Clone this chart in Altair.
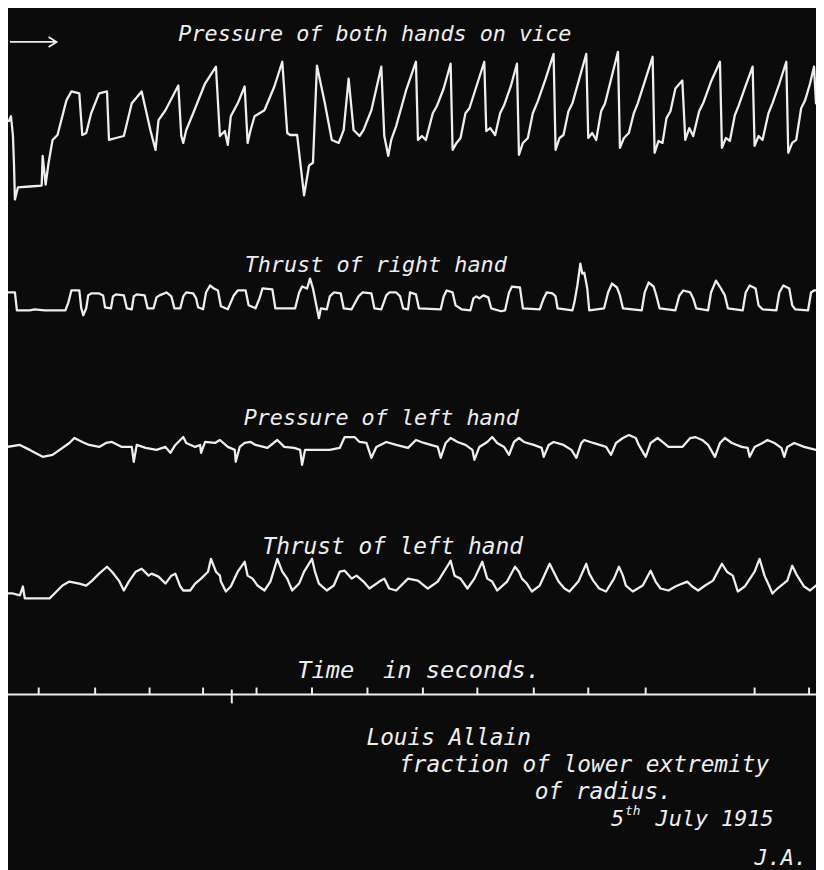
import altair as alt
import pandas as pd

# Kymograph record, positions along the drum (x, mm ~ px) and pen height (y, mm ~ px, downwards)
BOTH_HANDS = [(9,118),(11,113),(13,133),(14,160),(15,197),(18,185),(30,184),(42,183),(43,153),(46,182),
    (49,160),(53,137),(58,132),(67,97),(72,88),(80,90),(83,132),(87,130),(92,110),(100,90),(108,88),
    (110,137),(117,135),(125,133),(133,100),(143,88),(152,128),(157,147),(160,117),(167,107),(180,82),
    (183,133),(185,140),(188,127),(195,110),(207,80),(218,63),(222,133),(227,128),(230,142),(233,113),
    (240,100),(247,83),(250,140),(253,127),(257,113),(267,107),(277,83),(285,58),(290,130),(293,132),
    (300,132),(307,193),(312,163),(316,160),(320,62),(328,100),(335,137),(342,140),(347,127),(352,75),
    (357,127),(363,133),(367,127),(375,107),(385,63),(388,133),(392,153),(395,137),(400,123),(410,87),
    (420,58),(422,137),(426,133),(430,137),(437,110),(441,103),(448,85),(455,60),(457,147),(461,140),
    (465,135),(470,110),(474,105),(482,80),(489,58),(491,128),(495,125),(500,132),(505,110),(509,102),
    (516,82),(522,60),(524,152),(528,140),(533,135),(538,110),(543,98),(551,75),(559,50),(561,147),
    (565,135),(569,132),(574,108),(578,100),(585,75),(592,50),(594,135),(598,130),(602,137),(607,108),
    (611,100),(618,72),(624,48),(626,145),(630,135),(635,130),(640,110),(644,100),(651,78),(659,53),
    (661,150),(665,138),(669,140),(673,115),(677,108),(682,85),(689,77),(692,137),(696,125),(700,133),
    (706,108),(710,100),(718,78),(727,58),(729,145),(733,135),(737,138),(742,112),(746,102),(752,85),
    (760,63),(762,143),(766,133),(770,137),(776,110),(780,100),(787,80),(794,58),(796,150),(800,140),
    (804,137),(809,105),(813,97),(818,80),(822,63),(824,100)]

RIGHT_THRUST = [(8,291),(15,291),(17,309),(30,309),(35,308),(45,309),(60,309),(66,309),
    (69,301),(72,289),(80,289),(82,307),(84,314),(87,307),
    (89,294),(92,292),(100,292),(104,294),(106,306),(112,307),
    (114,295),(117,293),(125,294),(128,307),(133,308),
    (135,295),(138,293),(146,294),(149,307),(155,307),
    (158,296),(161,294),(168,291),(173,295),(176,307),(182,307),
    (185,295),(188,291),(195,292),(198,297),(200,306),(205,308),
    (208,291),(212,284),(216,287),(220,289),(223,305),(230,308),
    (236,294),(240,289),(248,289),(251,304),(258,307),
    (262,297),(265,287),(275,288),(278,307),(287,307),
    (298,307),(302,291),(305,285),(310,287),(313,277),(316,287),(320,307),(322,317),(324,307),(330,308),
    (333,295),(337,291),(344,292),(347,307),(355,308),
    (362,295),(366,291),(375,292),(378,307),(385,308),
    (390,294),(393,291),(400,291),(404,295),(407,307),(412,308),
    (414,291),(420,293),(423,307),(445,308),
    (448,295),(451,289),(457,291),(460,304),(466,308),(475,309),
    (478,297),(481,295),(484,297),(488,294),(493,296),(496,307),(506,310),(510,309),
    (514,291),(517,285),(525,286),(528,307),(545,308),
    (549,297),(552,291),(558,292),(561,295),(563,307),(578,309),
    (580,301),(583,284),(586,262),(588,272),(590,271),(593,287),(595,309),(610,307),
    (614,291),(618,282),(623,286),(626,294),(629,307),(648,309),
    (651,291),(655,281),(660,285),(663,295),(666,307),(682,309),
    (686,294),(690,289),(697,291),(700,297),(703,307),(715,309),
    (718,291),(723,279),(728,287),(732,294),(735,307),(750,309),
    (753,291),(757,284),(763,287),(766,304),(770,308),(784,309),
    (787,291),(791,284),(797,287),(800,304),(803,308),(816,309),
    (819,291),(822,289),(824,289)]

LEFT_PRESSURE = [(7,447),(20,445),(30,450),(43,457),(53,455),(70,443),(75,438),(83,442),(90,445),
    (100,447),(107,443),(113,442),(123,447),(133,447),(135,462),(138,445),(147,448),(158,450),(167,447),
    (172,453),(177,445),(182,440),(185,437),(188,443),(197,447),(202,445),(203,453),(207,442),(217,443),
    (222,440),(230,447),(237,450),(238,462),(242,447),(247,443),(253,442),(258,445),(270,448),(280,440),
    (287,447),(297,448),(303,450),(305,465),(308,450),(320,450),(333,450),(343,448),(348,437),(358,437),
    (363,442),(370,443),(375,458),(380,447),(390,442),(400,445),(412,448),(420,440),(428,443),(442,447),
    (445,458),(450,443),(455,438),(462,442),(470,445),(477,450),(479,460),(484,447),(492,442),(497,437),
    (502,443),(509,447),(514,455),(519,442),(524,438),(529,442),(539,445),(547,448),(549,457),(554,445),
    (559,442),(569,445),(577,450),(582,458),(587,443),(590,440),(599,443),(612,447),(617,455),(622,443),
    (629,438),(635,435),(642,438),(645,445),(652,457),(657,443),(664,438),(669,442),(675,447),(689,447),
    (697,438),(702,437),(709,440),(715,445),(722,457),(727,443),(732,438),(739,443),(749,447),(755,448),
    (757,457),(762,447),(770,443),(775,440),(782,443),(789,448),(792,457),(795,447),(802,443),(812,447),
    (824,450)]

LEFT_THRUST = [(7,595),(13,595),(20,597),(23,588),(25,600),(33,600),(50,600),(55,595),(63,587),(70,583),
    (80,585),(87,587),(93,582),(100,575),(108,568),(113,573),(120,582),(125,592),(130,583),(137,573),
    (143,570),(150,577),(153,575),(160,578),(167,585),(173,577),(177,575),(182,588),(185,592),(192,592),
    (197,585),(203,580),(210,573),(213,560),(218,573),(222,577),(223,583),(228,593),(233,588),(240,573),
    (247,563),(250,577),(255,580),(260,587),(267,592),(273,583),(280,560),(285,573),(290,580),(295,592),
    (302,585),(307,573),(315,560),(318,573),(322,585),(330,592),(337,587),(343,573),(348,572),(355,580),
    (360,577),(367,583),(373,590),(383,583),(388,580),(393,590),(400,592),(412,580),(422,582),(432,590),
    (442,583),(452,567),(455,562),(459,577),(465,580),(472,590),(479,580),(487,563),(492,580),(497,583),
    (502,592),(512,583),(520,568),(524,573),(527,580),(532,585),(537,593),(545,587),(555,565),(559,573),
    (564,583),(570,590),(575,593),(584,583),(592,565),(595,575),(599,582),(605,590),(612,593),(620,580),
    (625,568),(629,577),(632,587),(639,593),(649,587),(657,572),(662,583),(667,590),(675,592),(682,588),
    (689,585),(694,583),(699,588),(705,592),(712,587),(720,582),(729,565),(734,573),(740,577),(745,593),
    (752,588),(762,573),(767,560),(772,577),(777,588),(780,595),(785,590),(795,582),(800,567),(805,577),
    (812,588),(818,592),(824,587)]

SECOND_MARKS = [39, 96, 151, 205, 259, 315, 371, 427, 482, 539, 594, 652, 762, 817]
ODD_MARKS = [234]

NB = "\u00a0"
LABELS = ["Pressure of both hands on vice", "Thrust of right hand", "Pressure of left hand",
          "Thrust of left hand", f"Time{NB}{NB}in seconds.", "Louis Allain",
          "fraction of lower extremity", "of radius.", "5", "July 1915", "J.A."]
LABEL_X = [180, 247, 246, 265, 300, 370, 403, 540, 617, 662, 762]
LABEL_Y = [30, 263, 418, 548, 673, 741, 768, 796, 823, 823, 862]
LABEL_SIZE = [22, 22, 22, 23, 24, 23, 23, 23, 22, 22, 22]

INK = "#eeeeee"
FONT = "DejaVu Sans Mono"

rows = []
for name, pts in [("both", BOTH_HANDS), ("rthrust", RIGHT_THRUST),
                  ("lpress", LEFT_PRESSURE), ("lthrust", LEFT_THRUST)]:
    for i, (x, y) in enumerate(pts):
        rows.append({"trace": name, "x": x, "y": y, "i": i})
traces = pd.DataFrame(rows)

xs = alt.Scale(domain=[8, 824], nice=False, zero=False)
ys = alt.Scale(domain=[8, 870], nice=False, zero=False, reverse=True)

def bx(f="x"):
    return alt.X(f"{f}:Q", scale=xs, axis=None)

def by(f="y"):
    return alt.Y(f"{f}:Q", scale=ys, axis=None)

trace_layer = alt.Chart(traces).mark_line(
    color=INK, strokeWidth=2.3, strokeJoin="round", strokeCap="round", interpolate="linear"
).encode(x=bx(), y=by(), detail="trace:N", order="i:Q")

timeline = alt.Chart(pd.DataFrame({"x": [8], "x2": [824], "y": [697]})).mark_rule(
    color=INK, strokeWidth=2).encode(x=bx(), x2="x2:Q", y=by())

ticks = alt.Chart(pd.DataFrame({"x": SECOND_MARKS, "y": [697] * len(SECOND_MARKS),
                                "y2": [690] * len(SECOND_MARKS)})).mark_rule(
    color=INK, strokeWidth=2).encode(x=bx(), y=by(), y2="y2:Q")

odd = alt.Chart(pd.DataFrame({"x": ODD_MARKS, "y": [692], "y2": [706]})).mark_rule(
    color=INK, strokeWidth=2).encode(x=bx(), y=by(), y2="y2:Q")

arrow = alt.Chart(pd.DataFrame({
    "seg": ["shaft", "shaft", "head", "head", "head"],
    "x": [10, 57, 49, 57, 49], "y": [38, 38, 33, 38, 43], "i": [0, 1, 0, 1, 2]})).mark_line(
    color=INK, strokeWidth=1.8).encode(x=bx(), y=by(), detail="seg:N", order="i:Q")

labels = alt.Chart(pd.DataFrame({"t": LABELS, "x": LABEL_X, "y": LABEL_Y, "s": LABEL_SIZE})).mark_text(
    font=FONT, fontStyle="italic", color=INK, align="left", baseline="middle"
).encode(x=bx(), y=by(), text="t:N", size=alt.Size("s:Q", scale=None, legend=None))

sup = alt.Chart(pd.DataFrame({"t": ["th"], "x": [631], "y": [815]})).mark_text(
    font=FONT, fontStyle="italic", fontSize=13, color=INK, align="left", baseline="middle"
).encode(x=bx(), y=by(), text="t:N")

chart = alt.layer(trace_layer, timeline, ticks, odd, arrow, labels, sup).properties(
    width=816, height=862, padding=0, autosize=alt.AutoSizeParams(type="none"),
    background="#0b0b0b"
).configure_view(stroke=None)

chart.save("out.html", embed_options={"renderer": "svg", "actions": False})
